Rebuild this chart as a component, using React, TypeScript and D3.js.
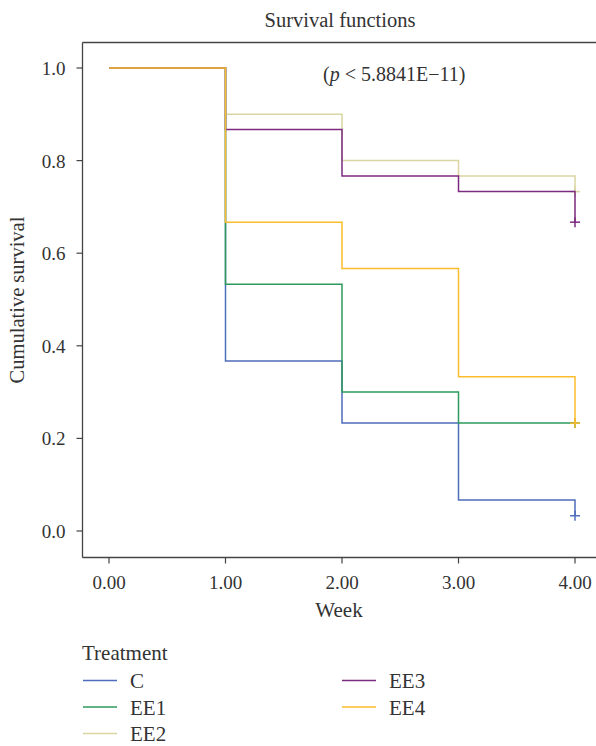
import * as d3 from "d3";
import * as React from "react";

// survival estimates per treatment group, week 0..4
const weeks = [0, 1, 2, 3, 4];
const groups = ["C", "EE1", "EE2", "EE3", "EE4"];
const survC = [1.0, 0.367, 0.233, 0.067, 0.033];
const survEE1 = [1.0, 0.533, 0.3, 0.233, 0.233];
const survEE2 = [1.0, 0.9, 0.8, 0.767, 0.733];
const survEE3 = [1.0, 0.867, 0.767, 0.733, 0.667];
const survEE4 = [1.0, 0.667, 0.567, 0.333, 0.233];
const colors = ["#4d6cbb", "#2e9a5c", "#d9d5a2", "#7b2b80", "#fbbd2b"];
const xTicks = [0, 1, 2, 3, 4];
const yTicks = [0, 0.2, 0.4, 0.6, 0.8, 1.0];

const FONT = "'Liberation Serif', 'DejaVu Serif', serif";

export default function App() {
  const width = 596;
  const height = 746;
  const left = 82.5, top = 42.5, bottom = 557.5;

  const x = d3.scaleLinear().domain([0, 4]).range([109, 575]);
  const y = d3.scaleLinear().domain([0, 1]).range([531, 68]);

  const series = [survC, survEE1, survEE2, survEE3, survEE4].map((vals, i) => ({
    name: groups[i],
    color: colors[i],
    points: weeks.map((w, j) => [w, vals[j]] as [number, number]),
  }));

  const line = d3
    .line<[number, number]>()
    .x((d) => x(d[0]))
    .y((d) => y(d[1]))
    .curve(d3.curveStepAfter);

  const axisColor = "#444";
  const textColor = "#333";

  return (
    <svg
      width={width}
      height={height}
      style={{ position: "absolute", left: 0, top: 0, background: "#fff" }}
      fontFamily={FONT}
    >
      <text x={340} y={27} textAnchor="middle" fontSize={20.5} fill={textColor}>
        Survival functions
      </text>

      {/* frame */}
      <line x1={left} x2={width} y1={top} y2={top} stroke={axisColor} strokeWidth={1.3} />
      <line x1={left} x2={left} y1={top} y2={bottom} stroke={axisColor} strokeWidth={1.3} />
      <line x1={left} x2={width} y1={bottom} y2={bottom} stroke={axisColor} strokeWidth={1.3} />

      {yTicks.map((t) => (
        <g key={t}>
          <line x1={left - 6} x2={left} y1={y(t)} y2={y(t)} stroke={axisColor} strokeWidth={1.2} />
          <text x={left - 17} y={y(t) + 7} textAnchor="end" fontSize={19} fill={textColor}>
            {t.toFixed(1)}
          </text>
        </g>
      ))}
      {xTicks.map((t) => (
        <g key={t}>
          <line x1={x(t)} x2={x(t)} y1={bottom} y2={bottom + 6} stroke={axisColor} strokeWidth={1.2} />
          <text x={x(t)} y={589} textAnchor="middle" fontSize={19} fill={textColor}>
            {t.toFixed(2)}
          </text>
        </g>
      ))}
      <text x={x(2) - 3} y={617} textAnchor="middle" fontSize={21} fill={textColor}>
        Week
      </text>
      <text
        transform={`translate(24,300) rotate(-90)`}
        textAnchor="middle"
        fontSize={20.5}
        fill={textColor}
      >
        Cumulative survival
      </text>

      <text x={323} y={81} fontSize={20} fill={textColor}>
        (<tspan fontStyle="italic">p</tspan> &lt; 5.8841E−11)
      </text>

      {series.map((s) => {
        const last = s.points[s.points.length - 1];
        return (
          <g key={s.name}>
            <path d={line(s.points) ?? ""} fill="none" stroke={s.color} strokeWidth={1.5} />
            <line
              x1={x(last[0]) - 5}
              x2={x(last[0]) + 5}
              y1={y(last[1])}
              y2={y(last[1])}
              stroke={s.color}
              strokeWidth={1.5}
            />
            <line
              x1={x(last[0])}
              x2={x(last[0])}
              y1={y(last[1]) - 5}
              y2={y(last[1]) + 5}
              stroke={s.color}
              strokeWidth={1.5}
            />
          </g>
        );
      })}

      {/* legend */}
      <text x={82} y={660} fontSize={21} fill={textColor}>
        Treatment
      </text>
      {series.map((s, i) => {
        const col = i < 3 ? 0 : 1;
        const row = i < 3 ? i : i - 3;
        const lx = col === 0 ? 83 : 342;
        const ly = 680.5 + row * 26.5;
        return (
          <g key={s.name}>
            <line x1={lx} x2={lx + 34} y1={ly} y2={ly} stroke={s.color} strokeWidth={1.5} />
            <text x={lx + 47} y={ly + 7.5} fontSize={21} fill={textColor}>
              {s.name}
            </text>
          </g>
        );
      })}
    </svg>
  );
}
